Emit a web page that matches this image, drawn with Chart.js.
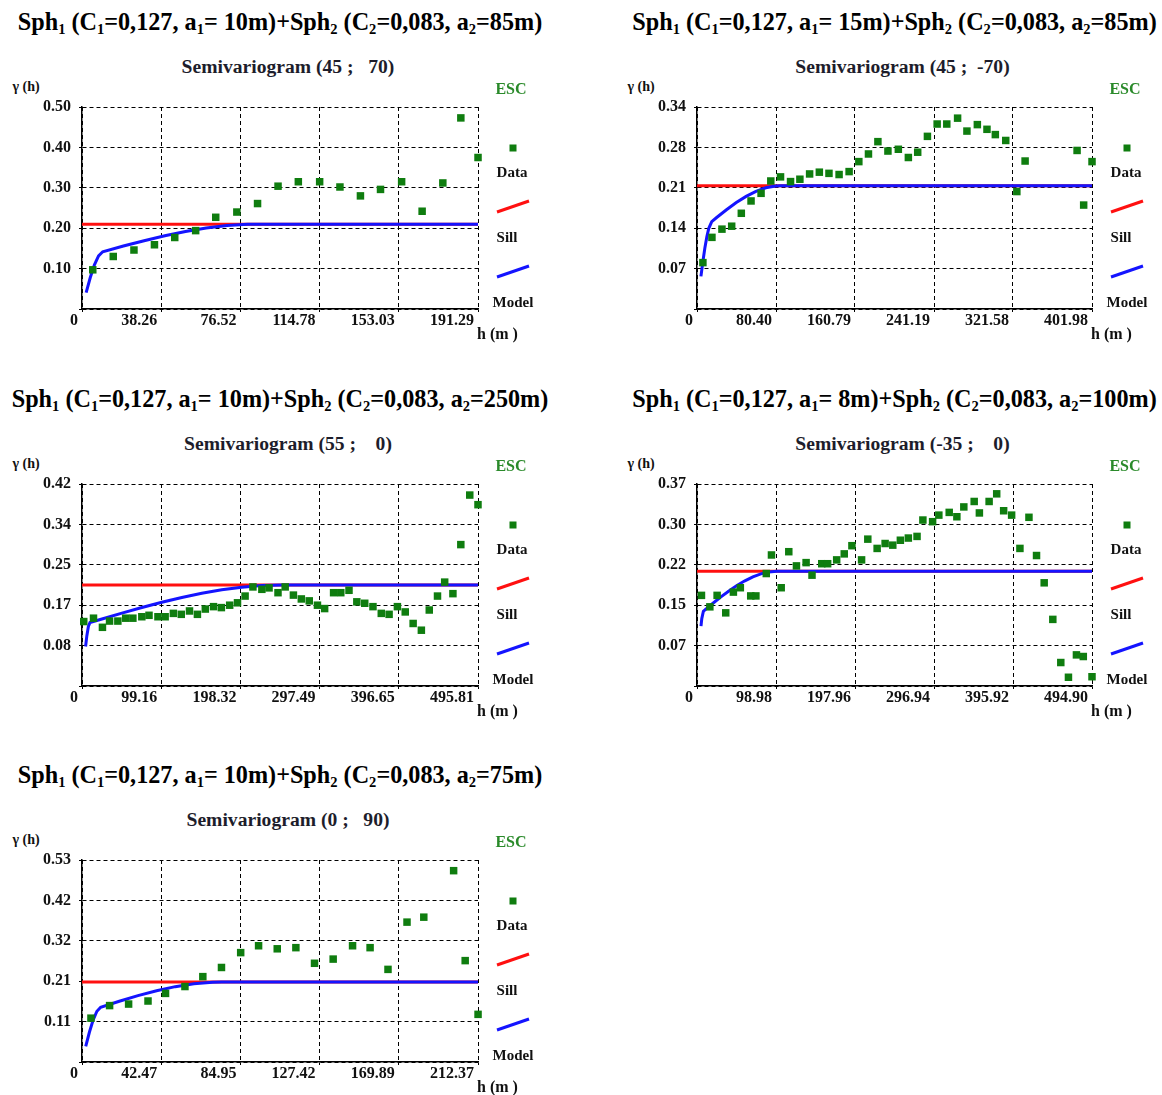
<!DOCTYPE html>
<html>
<head>
<meta charset="utf-8">
<script src="https://cdn.jsdelivr.net/npm/chart.js@4.4.1/dist/chart.umd.min.js"></script>
<style>
  html, body { margin: 0; padding: 0; background: #fff; width: 1162px; height: 1095px; overflow: hidden; }
  .t { position: absolute; transform: translate(-50%, -50%); white-space: pre; font-family: "Liberation Serif", "Times New Roman", serif; font-weight: bold; color: #111; line-height: 1; }
  .title { font-size: 24.2px; color: #000; }
  .title sub { font-size: 0.6em; vertical-align: -0.28em; line-height: 0; }
  .sub { font-size: 19.6px; color: #1d1d2b; }
  .gam { font-size: 14px; }
  .esc { font-size: 16px; color: #2a8a2a; }
  .lg { font-size: 15px; }
  .hm { font-size: 16px; }
  canvas { position: absolute; }
</style>
</head>
<body>
<script>
// ---- variogram parameters (nested spherical models) ----
const c1Text = '0,127';
const c2Text = '0,083';
const a1Range = [10, 15, 10, 8, 10];
const a2Range = [85, 85, 250, 100, 75];
const azimuths = ['45', '45', '55', '-35', '0'];
const dips = ['70', '-70', '0', '0', '90'];
const sillValue = 0.21;

// ---- axis ticks ----
const p1XTicks = [0, 38.26, 76.52, 114.78, 153.03, 191.29];
const p1XLabels = ['0', '38.26', '76.52', '114.78', '153.03', '191.29'];
const p1YTicks = [0, 0.1, 0.2, 0.3, 0.4, 0.5];
const p1YLabels = ['', '0.10', '0.20', '0.30', '0.40', '0.50'];

const p2XTicks = [0, 80.40, 160.79, 241.19, 321.58, 401.98];
const p2XLabels = ['0', '80.40', '160.79', '241.19', '321.58', '401.98'];
const p2YTicks = [0, 0.0688, 0.1376, 0.2064, 0.2752, 0.344];
const p2YLabels = ['', '0.07', '0.14', '0.21', '0.28', '0.34'];

const p3XTicks = [0, 99.16, 198.32, 297.49, 396.65, 495.81];
const p3XLabels = ['0', '99.16', '198.32', '297.49', '396.65', '495.81'];
const p3YTicks = [0, 0.084, 0.168, 0.252, 0.336, 0.42];
const p3YLabels = ['', '0.08', '0.17', '0.25', '0.34', '0.42'];

const p4XTicks = [0, 98.98, 197.96, 296.94, 395.92, 494.90];
const p4XLabels = ['0', '98.98', '197.96', '296.94', '395.92', '494.90'];
const p4YTicks = [0, 0.074, 0.148, 0.222, 0.296, 0.37];
const p4YLabels = ['', '0.07', '0.15', '0.22', '0.30', '0.37'];

const p5XTicks = [0, 42.47, 84.95, 127.42, 169.89, 212.37];
const p5XLabels = ['0', '42.47', '84.95', '127.42', '169.89', '212.37'];
const p5YTicks = [0, 0.106, 0.212, 0.318, 0.424, 0.53];
const p5YLabels = ['', '0.11', '0.21', '0.32', '0.42', '0.53'];

// ---- experimental semivariogram (lag h in m, gamma) ----
const p1Lag = [5.2, 15.1, 25.1, 35.0, 44.8, 54.9, 64.6, 74.8, 84.8, 94.7, 104.5, 114.8, 124.6, 134.5, 144.2, 154.4, 164.3, 174.3, 183.0, 191.3];
const p1Gamma = [0.097, 0.130, 0.146, 0.159, 0.177, 0.194, 0.227, 0.240, 0.261, 0.304, 0.315, 0.315, 0.302, 0.280, 0.296, 0.315, 0.242, 0.312, 0.473, 0.375];

const p2Lag = [6.0, 15.2, 25.4, 35.3, 45.1, 55.0, 65.2, 75.1, 85.0, 95.2, 104.7, 114.6, 124.5, 134.3, 144.6, 154.8, 164.7, 174.5, 184.1, 194.3, 204.9, 215.1, 224.6, 234.5, 244.4, 254.2, 265.2, 274.7, 285.3, 295.1, 303.6, 314.2, 325.5, 333.9, 386.8, 393.5, 402.0];
const p2Gamma = [0.079, 0.122, 0.136, 0.141, 0.163, 0.184, 0.197, 0.218, 0.225, 0.217, 0.221, 0.230, 0.233, 0.231, 0.229, 0.234, 0.251, 0.264, 0.285, 0.269, 0.272, 0.258, 0.267, 0.294, 0.315, 0.315, 0.325, 0.303, 0.314, 0.306, 0.297, 0.287, 0.200, 0.252, 0.270, 0.177, 0.251];

const p3Lag = [2.2, 14.4, 25.6, 34.5, 44.9, 54.7, 63.7, 74.9, 83.9, 95.1, 104.1, 114.4, 124.3, 134.6, 144.5, 154.4, 164.7, 174.5, 184.9, 194.7, 204.2, 214.0, 225.2, 234.2, 245.4, 254.4, 264.7, 274.6, 284.5, 294.8, 303.8, 315.0, 324.0, 334.3, 344.1, 354.0, 364.3, 374.7, 384.5, 394.9, 404.7, 414.6, 424.9, 434.8, 445.1, 454.1, 464.4, 474.3, 485.5, 495.8];
const p3Gamma = [0.134, 0.141, 0.122, 0.135, 0.135, 0.141, 0.141, 0.144, 0.147, 0.144, 0.144, 0.151, 0.149, 0.156, 0.149, 0.160, 0.165, 0.163, 0.168, 0.173, 0.187, 0.206, 0.201, 0.204, 0.194, 0.206, 0.189, 0.181, 0.177, 0.168, 0.161, 0.194, 0.194, 0.199, 0.175, 0.172, 0.165, 0.151, 0.149, 0.165, 0.154, 0.130, 0.116, 0.158, 0.187, 0.216, 0.192, 0.294, 0.397, 0.377];

const p4Lag = [5.6, 16.1, 25.2, 36.0, 45.6, 54.3, 67.3, 73.8, 86.8, 93.3, 105.5, 115.0, 124.6, 136.7, 144.1, 156.3, 163.7, 175.0, 184.5, 194.1, 206.2, 214.0, 225.7, 235.7, 245.3, 254.8, 264.8, 275.7, 283.0, 295.2, 303.0, 316.0, 325.6, 334.3, 347.3, 353.8, 366.0, 375.5, 384.2, 394.2, 404.6, 415.9, 425.4, 435.0, 445.8, 455.8, 465.4, 475.4, 484.0, 494.9];
const p4Gamma = [0.166, 0.145, 0.166, 0.134, 0.172, 0.180, 0.165, 0.165, 0.206, 0.240, 0.180, 0.246, 0.220, 0.226, 0.203, 0.224, 0.224, 0.231, 0.242, 0.257, 0.231, 0.269, 0.252, 0.261, 0.258, 0.267, 0.271, 0.274, 0.304, 0.301, 0.313, 0.318, 0.310, 0.328, 0.338, 0.317, 0.338, 0.352, 0.321, 0.313, 0.252, 0.309, 0.239, 0.189, 0.122, 0.043, 0.016, 0.057, 0.054, 0.017];

const p5Lag = [4.8, 14.8, 25.0, 35.4, 44.8, 55.2, 64.8, 74.8, 85.1, 94.7, 104.7, 114.7, 124.7, 134.7, 145.1, 154.5, 164.1, 174.3, 183.3, 199.3, 205.5, 212.4];
const p5Gamma = [0.115, 0.148, 0.152, 0.160, 0.180, 0.198, 0.224, 0.248, 0.287, 0.305, 0.297, 0.300, 0.259, 0.270, 0.305, 0.300, 0.243, 0.367, 0.380, 0.502, 0.266, 0.125];

// ---- fitted model curves (lag h in m, gamma) ----
const m1Lag = [2, 4, 6, 8, 10, 20, 30, 40, 50, 60, 70, 80, 85, 191.29];
const m1Gamma = [0.0405, 0.0780, 0.1094, 0.1316, 0.1416, 0.1558, 0.1691, 0.1813, 0.1918, 0.2003, 0.2064, 0.2096, 0.210, 0.210];

const m2Lag = [4, 6, 8, 10, 12, 15, 20, 30, 40, 50, 60, 70, 80, 85, 401.98];
const m2Gamma = [0.0555, 0.0809, 0.1037, 0.1228, 0.1374, 0.1487, 0.1558, 0.1691, 0.1813, 0.1918, 0.2003, 0.2064, 0.2096, 0.210, 0.210];

const m3Lag = [4.5, 6, 8, 10, 25, 50, 75, 100, 125, 150, 175, 200, 225, 250, 495.81];
const m3Gamma = [0.0822, 0.1036, 0.1239, 0.1320, 0.1394, 0.1516, 0.1632, 0.1741, 0.1841, 0.1927, 0.1999, 0.2054, 0.2088, 0.210, 0.210];

const m4Lag = [5, 6, 8, 10, 20, 30, 40, 50, 60, 70, 80, 90, 100, 494.90];
const m4Gamma = [0.1098, 0.1235, 0.1369, 0.1394, 0.1516, 0.1632, 0.1741, 0.1841, 0.1927, 0.1999, 0.2054, 0.2088, 0.210, 0.210];

const m5Lag = [2, 4, 6, 8, 10, 20, 30, 40, 50, 60, 70, 75, 212.37];
const m5Gamma = [0.0409, 0.0787, 0.1105, 0.1331, 0.1435, 0.1594, 0.1741, 0.1871, 0.1977, 0.2054, 0.2095, 0.210, 0.210];

// ---- styling ----
const GREEN = '#0f7d0f';
const RED = '#ff1010';
const BLUE = '#1414ff';
const SERIF = '"Liberation Serif", "Times New Roman", serif';
Chart.defaults.font.family = SERIF;

// plot-area placement of each panel (page pixels)
const panels = [
  { L: 82,  T: 107, W: 396, lag: p1Lag, gamma: p1Gamma, mLag: m1Lag, mGamma: m1Gamma, xt: p1XTicks, xl: p1XLabels, yt: p1YTicks, yl: p1YLabels },
  { L: 697, T: 107, W: 395, lag: p2Lag, gamma: p2Gamma, mLag: m2Lag, mGamma: m2Gamma, xt: p2XTicks, xl: p2XLabels, yt: p2YTicks, yl: p2YLabels },
  { L: 82,  T: 484, W: 396, lag: p3Lag, gamma: p3Gamma, mLag: m3Lag, mGamma: m3Gamma, xt: p3XTicks, xl: p3XLabels, yt: p3YTicks, yl: p3YLabels },
  { L: 697, T: 484, W: 395, lag: p4Lag, gamma: p4Gamma, mLag: m4Lag, mGamma: m4Gamma, xt: p4XTicks, xl: p4XLabels, yt: p4YTicks, yl: p4YLabels },
  { L: 82,  T: 860, W: 396, lag: p5Lag, gamma: p5Gamma, mLag: m5Lag, mGamma: m5Gamma, xt: p5XTicks, xl: p5XLabels, yt: p5YTicks, yl: p5YLabels }
];
const PLOT_H = 202;
const AXIS_W = 82;
const TOP_PAD = 12;
const X_AXIS_H = 41;

// key glyphs next to the plot: data marker, sill line, model line
const keyGlyphs = {
  id: 'keyGlyphs',
  afterDraw(chart) {
    const { ctx, chartArea: a } = chart;
    ctx.save();
    ctx.fillStyle = GREEN;
    ctx.fillRect(a.right + 31.5, a.top + 37.5, 7, 7);
    ctx.lineWidth = 3;
    ctx.lineCap = 'butt';
    ctx.strokeStyle = RED;
    ctx.beginPath();
    ctx.moveTo(a.right + 19, a.top + 105);
    ctx.lineTo(a.right + 51, a.top + 94);
    ctx.stroke();
    ctx.strokeStyle = BLUE;
    ctx.beginPath();
    ctx.moveTo(a.right + 19, a.top + 170);
    ctx.lineTo(a.right + 51, a.top + 159);
    ctx.stroke();
    ctx.restore();
  }
};

function addText(cls, html, x, y) {
  const d = document.createElement('div');
  d.className = 't ' + cls;
  d.innerHTML = html;
  d.style.left = x + 'px';
  d.style.top = y + 'px';
  document.body.appendChild(d);
}

panels.forEach((p, i) => {
  const R = p.L + p.W;
  const B = p.T + PLOT_H;
  const cw = AXIS_W + p.W + 70;
  const ch = TOP_PAD + PLOT_H + X_AXIS_H;

  const canvas = document.createElement('canvas');
  canvas.width = cw;
  canvas.height = ch;
  canvas.style.left = (p.L - AXIS_W) + 'px';
  canvas.style.top = (p.T - TOP_PAD) + 'px';
  canvas.style.width = cw + 'px';
  canvas.style.height = ch + 'px';
  document.body.appendChild(canvas);

  const xMax = p.xt[p.xt.length - 1];
  const yMax = p.yt[p.yt.length - 1];
  const tickFont = { family: SERIF, size: 16, weight: 'bold' };

  new Chart(canvas, {
    type: 'scatter',
    data: {
      datasets: [
        {
          label: 'Data',
          data: p.lag.map((h, k) => ({ x: h, y: p.gamma[k] })),
          pointStyle: 'rect',
          pointRadius: 5.3,
          pointBackgroundColor: GREEN,
          pointBorderColor: GREEN,
          pointBorderWidth: 0,
          clip: false
        },
        {
          label: 'Model',
          data: p.mLag.map((h, k) => ({ x: h, y: p.mGamma[k] })),
          showLine: true,
          borderColor: BLUE,
          borderWidth: 3,
          pointRadius: 0,
          tension: 0,
          clip: false
        },
        {
          label: 'Sill',
          data: [{ x: 0, y: sillValue }, { x: xMax, y: sillValue }],
          showLine: true,
          borderColor: RED,
          borderWidth: 3,
          pointRadius: 0,
          clip: false
        }
      ]
    },
    options: {
      responsive: false,
      animation: false,
      devicePixelRatio: 1,
      events: [],
      layout: { padding: { top: TOP_PAD, right: cw - AXIS_W - p.W, left: 0, bottom: 0 } },
      plugins: { legend: { display: false }, tooltip: { enabled: false }, title: { display: false } },
      scales: {
        x: {
          type: 'linear',
          min: 0,
          max: xMax,
          afterBuildTicks: s => { s.ticks = p.xt.map(v => ({ value: v })); },
          afterFit: s => { s.height = X_AXIS_H; s.paddingLeft = 0; s.paddingRight = 0; },
          ticks: {
            callback: (v, k) => p.xl[k],
            align: 'end',
            labelOffset: -4,
            maxRotation: 0,
            minRotation: 0,
            autoSkip: false,
            padding: -1,
            color: '#111',
            font: tickFont
          },
          grid: { color: '#000', lineWidth: 1, drawTicks: true, tickLength: 3, tickColor: '#000', tickWidth: 1 },
          border: { display: true, color: '#000', width: 1.5, dash: [4, 3] }
        },
        y: {
          type: 'linear',
          min: 0,
          max: yMax,
          afterBuildTicks: s => { s.ticks = p.yt.map(v => ({ value: v })); },
          afterFit: s => { s.width = AXIS_W; s.paddingTop = 0; s.paddingBottom = 0; },
          ticks: {
            callback: (v, k) => p.yl[k],
            padding: 8,
            color: '#111',
            font: tickFont
          },
          grid: { color: '#000', lineWidth: 1, drawTicks: true, tickLength: 3, tickColor: '#000', tickWidth: 1 },
          border: { display: true, color: '#000', width: 1.5, dash: [4, 3] }
        }
      }
    },
    plugins: [keyGlyphs]
  });

  // headings and key labels
  const title = `Sph<sub>1</sub> (C<sub>1</sub>=${c1Text}, a<sub>1</sub>= ${a1Range[i]}m)+Sph<sub>2</sub> (C<sub>2</sub>=${c2Text}, a<sub>2</sub>=${a2Range[i]}m)`;
  addText('title', title, p.L + p.W / 2, p.T - 85);
  addText('sub', `Semivariogram (${azimuths[i]} ; ${dips[i].padStart(4, ' ')})`, p.L + p.W / 2 + 8, p.T - 40);
  addText('gam', 'γ (h)', p.L - 56, p.T - 20);
  addText('esc', 'ESC', R + 33, p.T - 18);
  addText('lg', 'Data', R + 34, p.T + 65);
  addText('lg', 'Sill', R + 29, p.T + 130);
  addText('lg', 'Model', R + 35, p.T + 195);
  addText('hm', 'h (m )', R + 19.5, B + 25);
});
</script>
</body>
</html>
